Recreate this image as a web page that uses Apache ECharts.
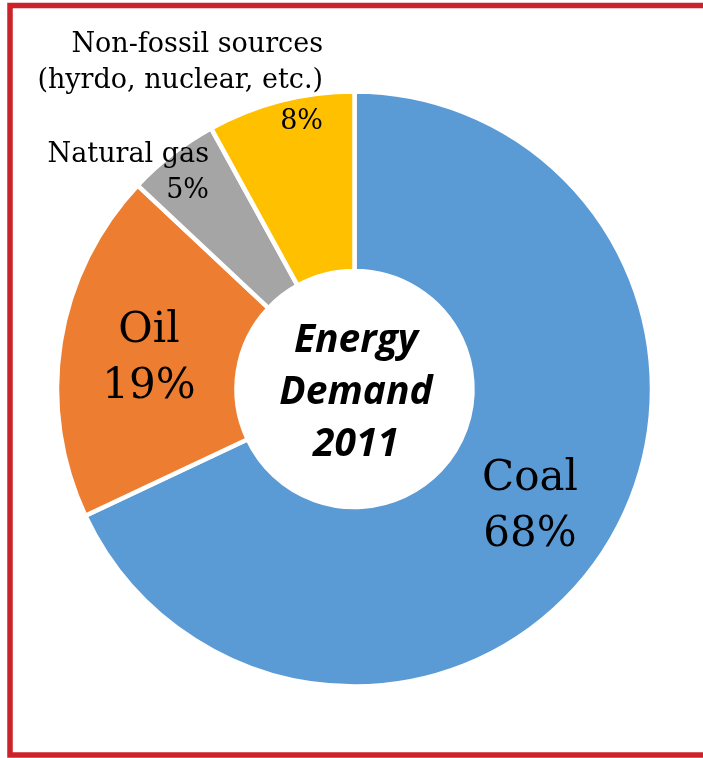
<!DOCTYPE html>
<html>
<head>
<meta charset="utf-8">
<script src="https://cdn.jsdelivr.net/npm/echarts@6/dist/echarts.min.js"></script>
<style>
  html, body { margin: 0; padding: 0; background: #fff; }
  #chart { width: 703px; height: 758px; }
</style>
</head>
<body>
<div id="chart"></div>
<script>
// Energy demand shares, 2011
const categories = ['Coal', 'Oil', 'Natural gas', 'Non-fossil sources'];
const subtitles = ['', '', '', '(hyrdo, nuclear, etc.)'];
const shares = [68, 19, 5, 8];
const colors = ['#5b9bd5', '#ed7d31', '#a5a5a5', '#ffc000'];
const centerTitle = ['Energy', 'Demand', '2011'];

// where each slice label sits, and how it is aligned
const labelPlacement = [
  { x: 530, y: 507, align: 'center', verticalAlign: 'middle' },
  { x: 149, y: 359, align: 'center', verticalAlign: 'middle' },
  { x: 209, y: 173, align: 'right', verticalAlign: 'middle' },
  { x: 323, y: 86, align: 'right', verticalAlign: 'middle' }
];

const serif = 'DejaVu Serif';

const pieData = categories.map((name, i) => ({
  name: name,
  value: shares[i],
  itemStyle: { color: colors[i] }
}));

function labelText(p) {
  const i = p.dataIndex;
  if (i <= 1) {
    return '{big|' + p.name + '}\n{big|' + p.value + '%}';
  }
  if (subtitles[i]) {
    return '{small|' + p.name + '}\n{small|' + subtitles[i] + '}\n{smallGap|' + p.value + '%}';
  }
  return '{small|' + p.name + '}\n{small|' + p.value + '%}';
}

const chart = echarts.init(document.getElementById('chart'), null, { renderer: 'canvas' });

chart.setOption({
  animation: false,
  backgroundColor: '#ffffff',
  graphic: [
    {
      type: 'rect',
      shape: { x: 10, y: 5.5, width: 800, height: 749.5 },
      style: { fill: 'none', stroke: '#cc2229', lineWidth: 5.5 },
      z: 100
    },
    {
      type: 'text',
      style: {
        x: 356,
        y: 393,
        text: centerTitle.join('\n'),
        align: 'center',
        verticalAlign: 'middle',
        fontFamily: 'Open Sans',
        fontWeight: 'bold',
        fontStyle: 'italic',
        fontSize: 39,
        lineHeight: 52,
        fill: '#000'
      },
      z: 50
    }
  ],
  series: [
    {
      type: 'pie',
      center: [354.5, 389],
      radius: [118, 297.5],
      startAngle: 90,
      clockwise: true,
      avoidLabelOverlap: false,
      data: pieData,
      itemStyle: { borderColor: '#ffffff', borderWidth: 4.5 },
      emphasis: { disabled: true },
      labelLine: { show: false },
      label: {
        show: true,
        position: 'inside',
        formatter: labelText,
        color: '#000',
        fontFamily: serif,
        rich: {
          big: { fontFamily: serif, fontSize: 42, lineHeight: 56, color: '#000' },
          small: { fontFamily: serif, fontSize: 27, lineHeight: 36, color: '#000' },
          smallGap: { fontFamily: serif, fontSize: 27, lineHeight: 46, color: '#000' }
        }
      },
      labelLayout: function (params) {
        const p = labelPlacement[params.dataIndex];
        return { x: p.x, y: p.y, align: p.align, verticalAlign: p.verticalAlign };
      }
    }
  ]
});
</script>
</body>
</html>
